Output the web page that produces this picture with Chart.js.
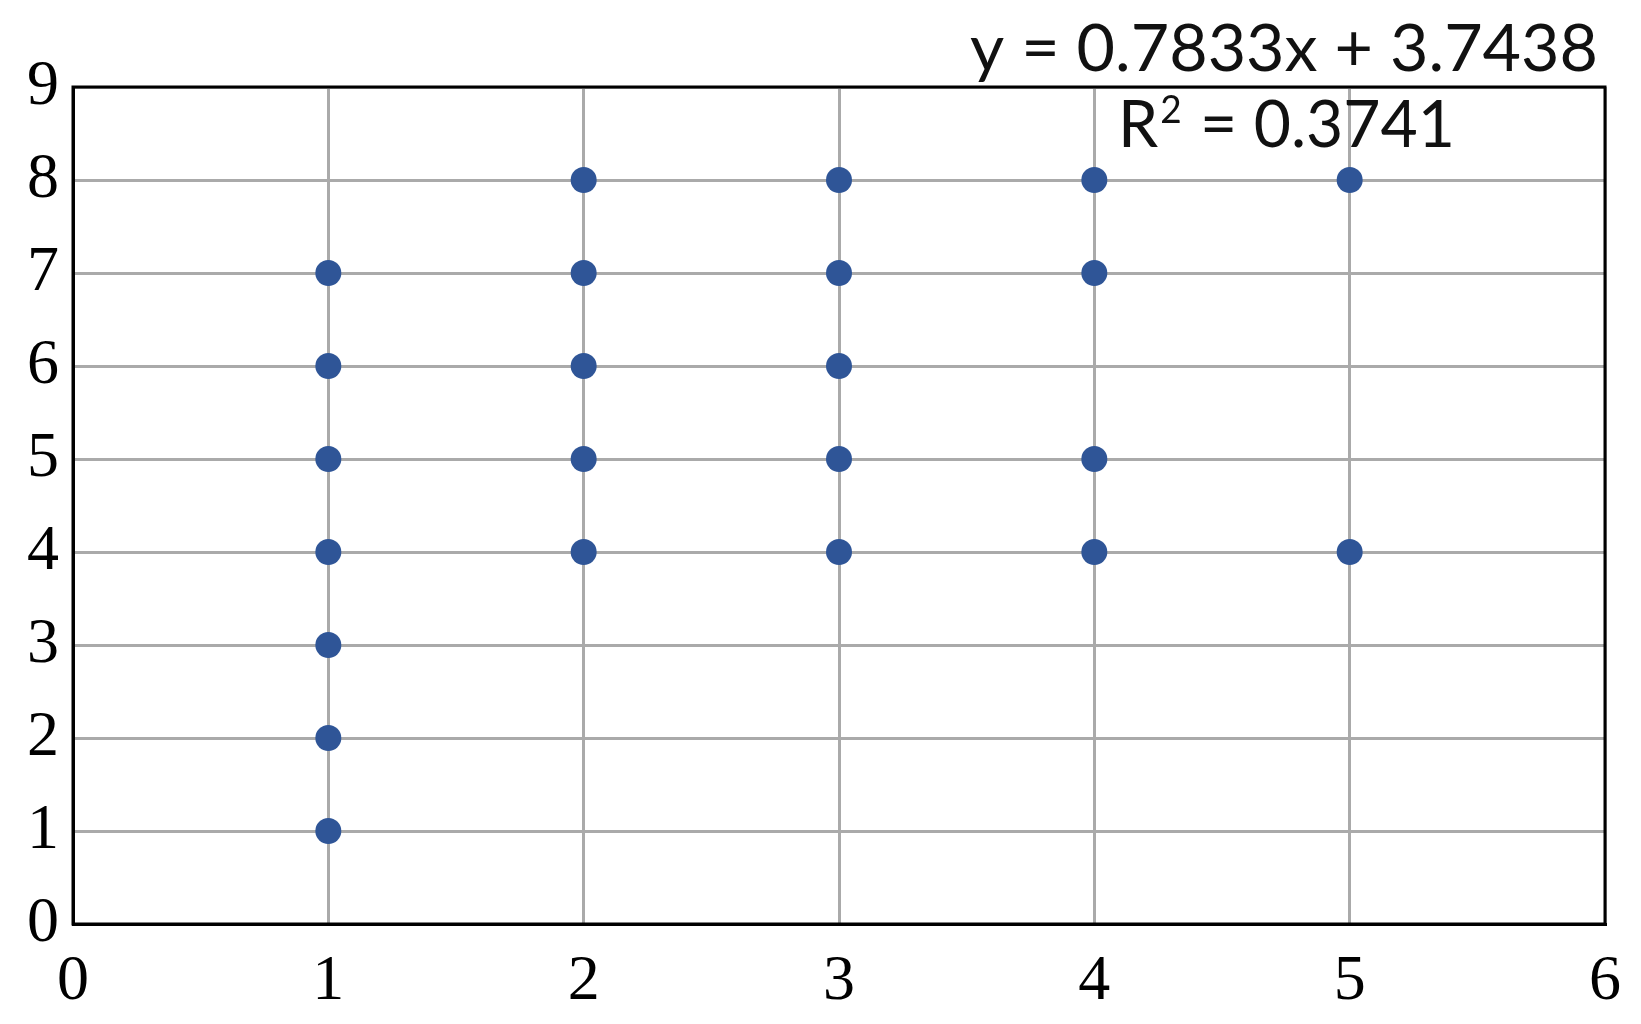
<!DOCTYPE html>
<html>
<head>
<meta charset="utf-8">
<script src="https://cdn.jsdelivr.net/npm/chart.js@4"></script>
<style>
  html, body { margin: 0; padding: 0; background: #fff; }
  #wrap { width: 1641px; height: 1024px; position: relative; }
</style>
</head>
<body>
<div id="wrap"><canvas id="chart"></canvas></div>
<script>
  var xValues = [1, 1, 1, 1, 1, 1, 1, 2, 2, 2, 2, 2, 3, 3, 3, 3, 3, 4, 4, 4, 4, 5, 5];
  var yValues = [1, 2, 3, 4, 5, 6, 7, 4, 5, 6, 7, 8, 4, 5, 6, 7, 8, 4, 5, 7, 8, 4, 8];
  var equationText = 'y = 0.7833x + 3.7438';
  var rSquaredText = '0.3741';

  var tickFont = { family: '"Liberation Serif", "DejaVu Serif", serif', size: 64 };
  var noteFamily = 'Lato, "Open Sans", sans-serif';
  var bigFont = '66px ' + noteFamily;
  var supFont = '38px ' + noteFamily;

  // draws text squeezed horizontally so it spans the given width
  function fitText(ctx, text, x, y, width, align) {
    var w = ctx.measureText(text).width;
    var k = width / w;
    ctx.save();
    ctx.translate(x, y);
    ctx.scale(k, 1);
    ctx.textAlign = 'left';
    ctx.fillText(text, align === 'right' ? -w : 0, 0);
    ctx.restore();
  }

  var trendNote = {
    id: 'trendNote',
    afterDraw: function (chart) {
      var ctx = chart.ctx;
      var area = chart.chartArea;
      ctx.save();
      ctx.fillStyle = '#111';
      ctx.textBaseline = 'alphabetic';
      ctx.textAlign = 'left';
      ctx.font = bigFont;
      fitText(ctx, equationText, area.right - 7, area.top - 16, 628, 'right');

      // R² line, scaled to the width seen in the picture
      var rest = ' = ' + rSquaredText;
      var rw = ctx.measureText('R').width;
      var tw = ctx.measureText(rest).width;
      ctx.font = supFont;
      var sw = ctx.measureText('2').width;
      var total = rw + sw + 4 + tw;
      var k = 337 / total;
      ctx.save();
      ctx.translate(area.left + 1045, area.top + 60);
      ctx.scale(k, 1);
      ctx.font = bigFont;
      ctx.fillText('R', 0, 0);
      ctx.font = supFont;
      ctx.fillText('2', rw + 2, -24);
      ctx.font = bigFont;
      ctx.fillText(rest, rw + sw + 4, 0);
      ctx.restore();
      ctx.restore();
    }
  };

  new Chart(document.getElementById('chart'), {
    type: 'scatter',
    data: {
      datasets: [{
        data: xValues.map(function (x, i) { return { x: x, y: yValues[i] }; }),
        backgroundColor: '#2f5597',
        borderColor: '#2f5597',
        borderWidth: 0,
        pointRadius: 13,
        pointHoverRadius: 13
      }]
    },
    options: {
      responsive: true,
      maintainAspectRatio: false,
      animation: false,
      layout: { padding: { top: 87, right: 28, left: 0, bottom: 0 } },
      scales: {
        x: {
          type: 'linear',
          min: 0,
          max: 6,
          afterFit: function (s) { s.height = 100; },
          border: { display: true, color: '#000', width: 3 },
          grid: { color: '#aaaaaa', lineWidth: 3, drawTicks: false },
          ticks: { stepSize: 1, color: '#000', font: tickFont, padding: 20, maxRotation: 0 }
        },
        y: {
          type: 'linear',
          min: 0,
          max: 9,
          afterFit: function (s) { s.width = 73; },
          border: { display: true, color: '#000', width: 3 },
          grid: { color: '#aaaaaa', lineWidth: 3, drawTicks: false },
          ticks: { stepSize: 1, color: '#000', font: tickFont, padding: 14 }
        }
      },
      plugins: {
        legend: { display: false },
        tooltip: { enabled: false }
      }
    },
    plugins: [trendNote, {
      id: 'frame',
      afterDraw: function (chart) {
        var a = chart.chartArea;
        var ctx = chart.ctx;
        ctx.save();
        ctx.strokeStyle = '#000';
        ctx.lineWidth = 3;
        ctx.strokeRect(a.left, a.top, a.right - a.left, a.bottom - a.top);
        ctx.restore();
      }
    }]
  });
</script>
</body>
</html>
